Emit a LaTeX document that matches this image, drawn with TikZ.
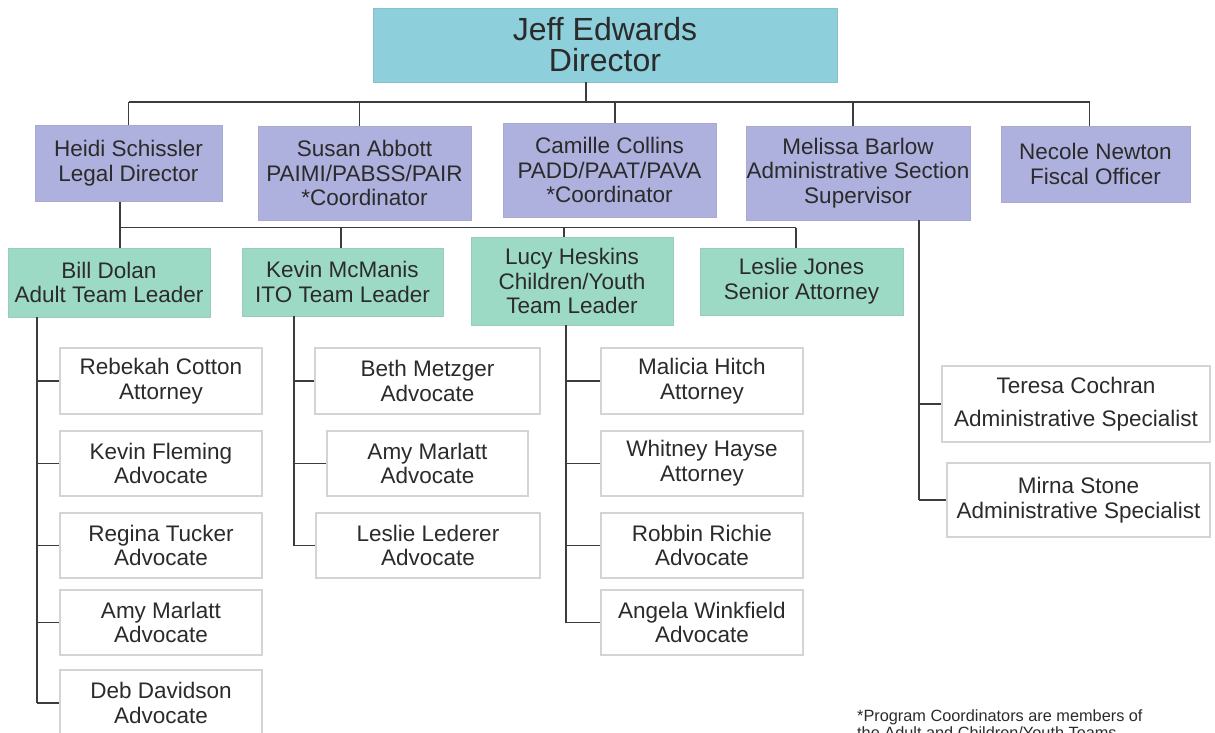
\documentclass[tikz,border=0pt]{standalone}
\usepackage{fontspec}
\setmainfont{Liberation Sans}
\definecolor{dircol}{HTML}{8ECFDC}
\definecolor{purp}{HTML}{AEB0DD}
\definecolor{grn}{HTML}{9DDAC6}
\definecolor{txt}{HTML}{2B2B2B}
\definecolor{lin}{HTML}{3C3C3C}
\definecolor{leafb}{HTML}{D4D4D4}
\tikzset{
  base/.style={inner sep=0pt, align=center, text=txt, font=\fontsize{22.5}{24.8}\selectfont},
  dirbox/.style={base, fill=dircol, draw=dircol!80!gray, line width=0.8pt, font=\fontsize{32}{31}\selectfont},
  purpbox/.style={base, fill=purp, draw=purp!85!gray, line width=0.8pt},
  grnbox/.style={base, fill=grn, draw=grn!85!gray, line width=0.8pt},
  leaf/.style={base, fill=white, draw=leafb, line width=1.3pt},
  conn/.style={draw=lin, line width=1.9pt},
}
\begin{document}
\begin{tikzpicture}[x=1pt,y=-1pt]
\path[use as bounding box] (0,0) rectangle (1215,732);
\clip (0,0) rectangle (1215,732);
% level 0
\node[dirbox, minimum width=464pt, minimum height=74pt] (Dir) at (605,45) {Jeff Edwards\\Director};
% level 1
\node[purpbox, minimum width=187pt, minimum height=76pt] (Heidi) at (128.5,163.5) {Heidi Schissler\\Legal Director};
\node[purpbox, minimum width=213pt, minimum height=94pt] (Susan) at (364.5,173) {Susan Abbott\\PAIMI/PABSS/PAIR\\*Coordinator};
\node[purpbox, minimum width=213pt, minimum height=94pt] (Camille) at (609.5,170) {Camille Collins\\PADD/PAAT/PAVA\\*Coordinator};
\node[purpbox, minimum width=224pt, minimum height=94pt] (Melissa) at (858,173) {Melissa Barlow\\Administrative Section\\Supervisor};
\node[purpbox, minimum width=189pt, minimum height=76pt] (Necole) at (1095.5,164) {Necole Newton\\Fiscal Officer};
% level 2
\node[grnbox, minimum width=202pt, minimum height=69pt] (Bill) at (109,282.5) {Bill Dolan\\Adult Team Leader};
\node[grnbox, minimum width=201pt, minimum height=68pt] (Kevin) at (342.5,282) {Kevin McManis\\ITO Team Leader};
\node[grnbox, minimum width=202pt, minimum height=88pt] (Lucy) at (572,281) {Lucy Heskins\\Children/Youth\\Team Leader};
\node[grnbox, minimum width=203pt, minimum height=67pt] (Leslie) at (801.5,281.5) {Leslie Jones\\Senior Attorney};
% Bill column
\node[leaf, minimum width=202pt, minimum height=66pt] (Rebekah) at (161,381) {Rebekah Cotton\\Attorney};
\node[leaf, minimum width=202pt, minimum height=65pt] (KevinF) at (161,463.5) {Kevin Fleming\\Advocate};
\node[leaf, minimum width=202pt, minimum height=65pt] (Regina) at (161,545.5) {Regina Tucker\\Advocate};
\node[leaf, minimum width=202pt, minimum height=65pt] (AmyA) at (161,622.5) {Amy Marlatt\\Advocate};
\node[leaf, minimum width=202pt, minimum height=66pt] (Deb) at (161,703) {Deb Davidson\\Advocate};
% Kevin column
\node[leaf, minimum width=225pt, minimum height=66pt] (Beth) at (427.5,381) {Beth Metzger\\Advocate};
\node[leaf, minimum width=201pt, minimum height=65pt] (AmyB) at (427.5,463.5) {Amy Marlatt\\Advocate};
\node[leaf, minimum width=224pt, minimum height=65pt] (LeslieL) at (428,545.5) {Leslie Lederer\\Advocate};
% Lucy column
\node[leaf, minimum width=202pt, minimum height=66pt] (Malicia) at (702,381) {Malicia Hitch\\Attorney};
\node[leaf, minimum width=202pt, minimum height=65pt] (Whitney) at (702,463.5) {Whitney Hayse\\Attorney};
\node[leaf, minimum width=202pt, minimum height=65pt] (Robbin) at (702,545.5) {Robbin Richie\\Advocate};
\node[leaf, minimum width=202pt, minimum height=65pt] (Angela) at (702,622.5) {Angela Winkfield\\Advocate};
% Melissa column
\node[leaf, minimum width=268pt, minimum height=76pt, font=\fontsize{22.5}{33}\selectfont] (Teresa) at (1076,404) {Teresa Cochran\\Administrative Specialist};
\node[leaf, minimum width=263pt, minimum height=74pt] (Mirna) at (1078.5,500) {Mirna Stone\\Administrative Specialist};
% footnote
\node[anchor=north west, inner sep=0pt, align=left, text=txt, font=\fontsize{16.3}{17}\selectfont] (note) at (857,709) {*Program Coordinators are members of\\the Adult and Children/Youth Teams};
% connectors level 0-1
\coordinate (b1) at (128.5,102);
\draw[conn] ([xshift=-19pt]Dir.south) -- ([xshift=-19pt]Dir.south |- b1);
\draw[conn] (b1) -- ([xshift=-6pt]Necole.north |- b1);
\draw[conn] (b1) -- (Heidi.north);
\draw[conn] ([xshift=-5pt]Susan.north |- b1) -- ([xshift=-5pt]Susan.north);
\draw[conn] ([xshift=5.5pt]Camille.north |- b1) -- ([xshift=5.5pt]Camille.north);
\draw[conn] ([xshift=-5pt]Melissa.north |- b1) -- ([xshift=-5pt]Melissa.north);
\draw[conn] ([xshift=-6pt]Necole.north |- b1) -- ([xshift=-6pt]Necole.north);
% connectors level 1-2
\coordinate (b2) at (120,227.5);
\draw[conn] ([xshift=-8.5pt]Heidi.south) -- (b2) -- ([xshift=-5.5pt]Leslie.north |- b2);
\draw[conn] (b2) -- ([xshift=11pt]Bill.north);
\draw[conn] ([xshift=-1.5pt]Kevin.north |- b2) -- ([xshift=-1.5pt]Kevin.north);
\draw[conn] ([xshift=-8pt]Lucy.north |- b2) -- ([xshift=-8pt]Lucy.north);
\draw[conn] ([xshift=-5.5pt]Leslie.north |- b2) -- ([xshift=-5.5pt]Leslie.north);
% Bill column
\coordinate (sB) at (37,317);
\draw[conn] (sB) -- (sB |- Deb.west);
\foreach \c in {Rebekah,KevinF,Regina,AmyA,Deb} \draw[conn] (sB |- \c.west) -- (\c.west);
% Kevin column
\coordinate (sK) at (294,316);
\draw[conn] (sK) -- (sK |- LeslieL.west);
\foreach \c in {Beth,AmyB,LeslieL} \draw[conn] (sK |- \c.west) -- (\c.west);
% Lucy column
\coordinate (sL) at (566,325);
\draw[conn] (sL) -- (sL |- Angela.west);
\foreach \c in {Malicia,Whitney,Robbin,Angela} \draw[conn] (sL |- \c.west) -- (\c.west);
% Melissa column
\coordinate (sM) at (919,220);
\draw[conn] (sM) -- (sM |- Mirna.west);
\foreach \c in {Teresa,Mirna} \draw[conn] (sM |- \c.west) -- (\c.west);
\end{tikzpicture}
\end{document}
